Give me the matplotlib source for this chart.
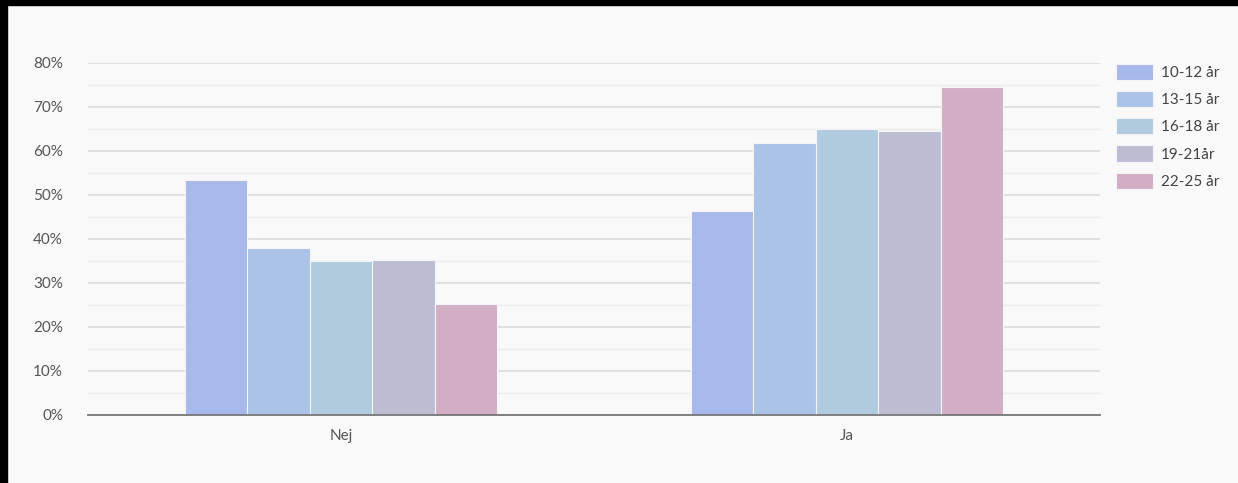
import numpy as np
import matplotlib
matplotlib.use("Agg")
import matplotlib.pyplot as plt
from matplotlib.patches import Rectangle
from matplotlib.ticker import MultipleLocator, FuncFormatter

plt.rcParams['font.family'] = ['Lato', 'DejaVu Sans']

categories = ["Nej", "Ja"]
age_groups = ["10-12 år", "13-15 år", "16-18 år", "19-21år", "22-25 år"]
nej = [53.5, 38.0, 34.9, 35.3, 25.2]
ja = [46.3, 61.8, 64.9, 64.5, 74.5]
colors = ["#a9b8ea", "#abc3e6", "#afcbdd", "#bcbdd3", "#d2aec4"]

W, H = 1238, 483
fig = plt.figure(figsize=(W / 100, H / 100), dpi=100, facecolor="#f9f9f9")
ax = fig.add_axes([88 / W, 68 / H, (1100 - 88) / W, (415 - 63) / H])
ax.set_facecolor("#f9f9f9")

x = np.arange(len(categories))
bw = 0.1235
for i, name in enumerate(age_groups):
    vals = [nej[i], ja[i]]
    ax.bar(x + (i - 2) * bw, vals, width=bw, color=colors[i],
           edgecolor="#f4f4f8", linewidth=0.8, label=name, zorder=3)

ax.set_xlim(-0.5, 1.5)
ax.set_ylim(0, 80)
ax.yaxis.set_major_locator(MultipleLocator(10))
ax.yaxis.set_minor_locator(MultipleLocator(5))
ax.yaxis.set_major_formatter(FuncFormatter(lambda v, p: f"{int(v)}%"))
ax.grid(axis="y", which="major", color="#dcdcdc", linewidth=1.2, zorder=0)
ax.grid(axis="y", which="minor", color="#ececec", linewidth=1.0, zorder=0)
ax.set_xticks(x)
ax.set_xticklabels(categories)
ax.tick_params(axis="both", which="both", length=0, labelsize=11, colors="#555555")
ax.tick_params(axis="y", pad=18)
ax.tick_params(axis="x", pad=10)
for s in ["top", "right", "left"]:
    ax.spines[s].set_visible(False)
ax.spines["bottom"].set_color("#777777")
ax.spines["bottom"].set_linewidth(1.3)
ax.spines["bottom"].set_zorder(4)

leg = fig.legend(loc="upper left", bbox_to_anchor=(1102 / W, 1 - 50 / H),
                 frameon=False, fontsize=11, handlelength=2.45,
                 handleheight=1.25, labelspacing=0.72, handletextpad=0.5,
                 labelcolor="#444444")

# black edges of the screenshot
fig.add_artist(Rectangle((0, 1 - 5 / H), 1, 5 / H, transform=fig.transFigure,
                         color="black", zorder=10))
fig.add_artist(Rectangle((0, 0), 7 / W, 1, transform=fig.transFigure,
                         color="black", zorder=10))

fig.savefig("out.png", dpi=100, facecolor=fig.get_facecolor())
